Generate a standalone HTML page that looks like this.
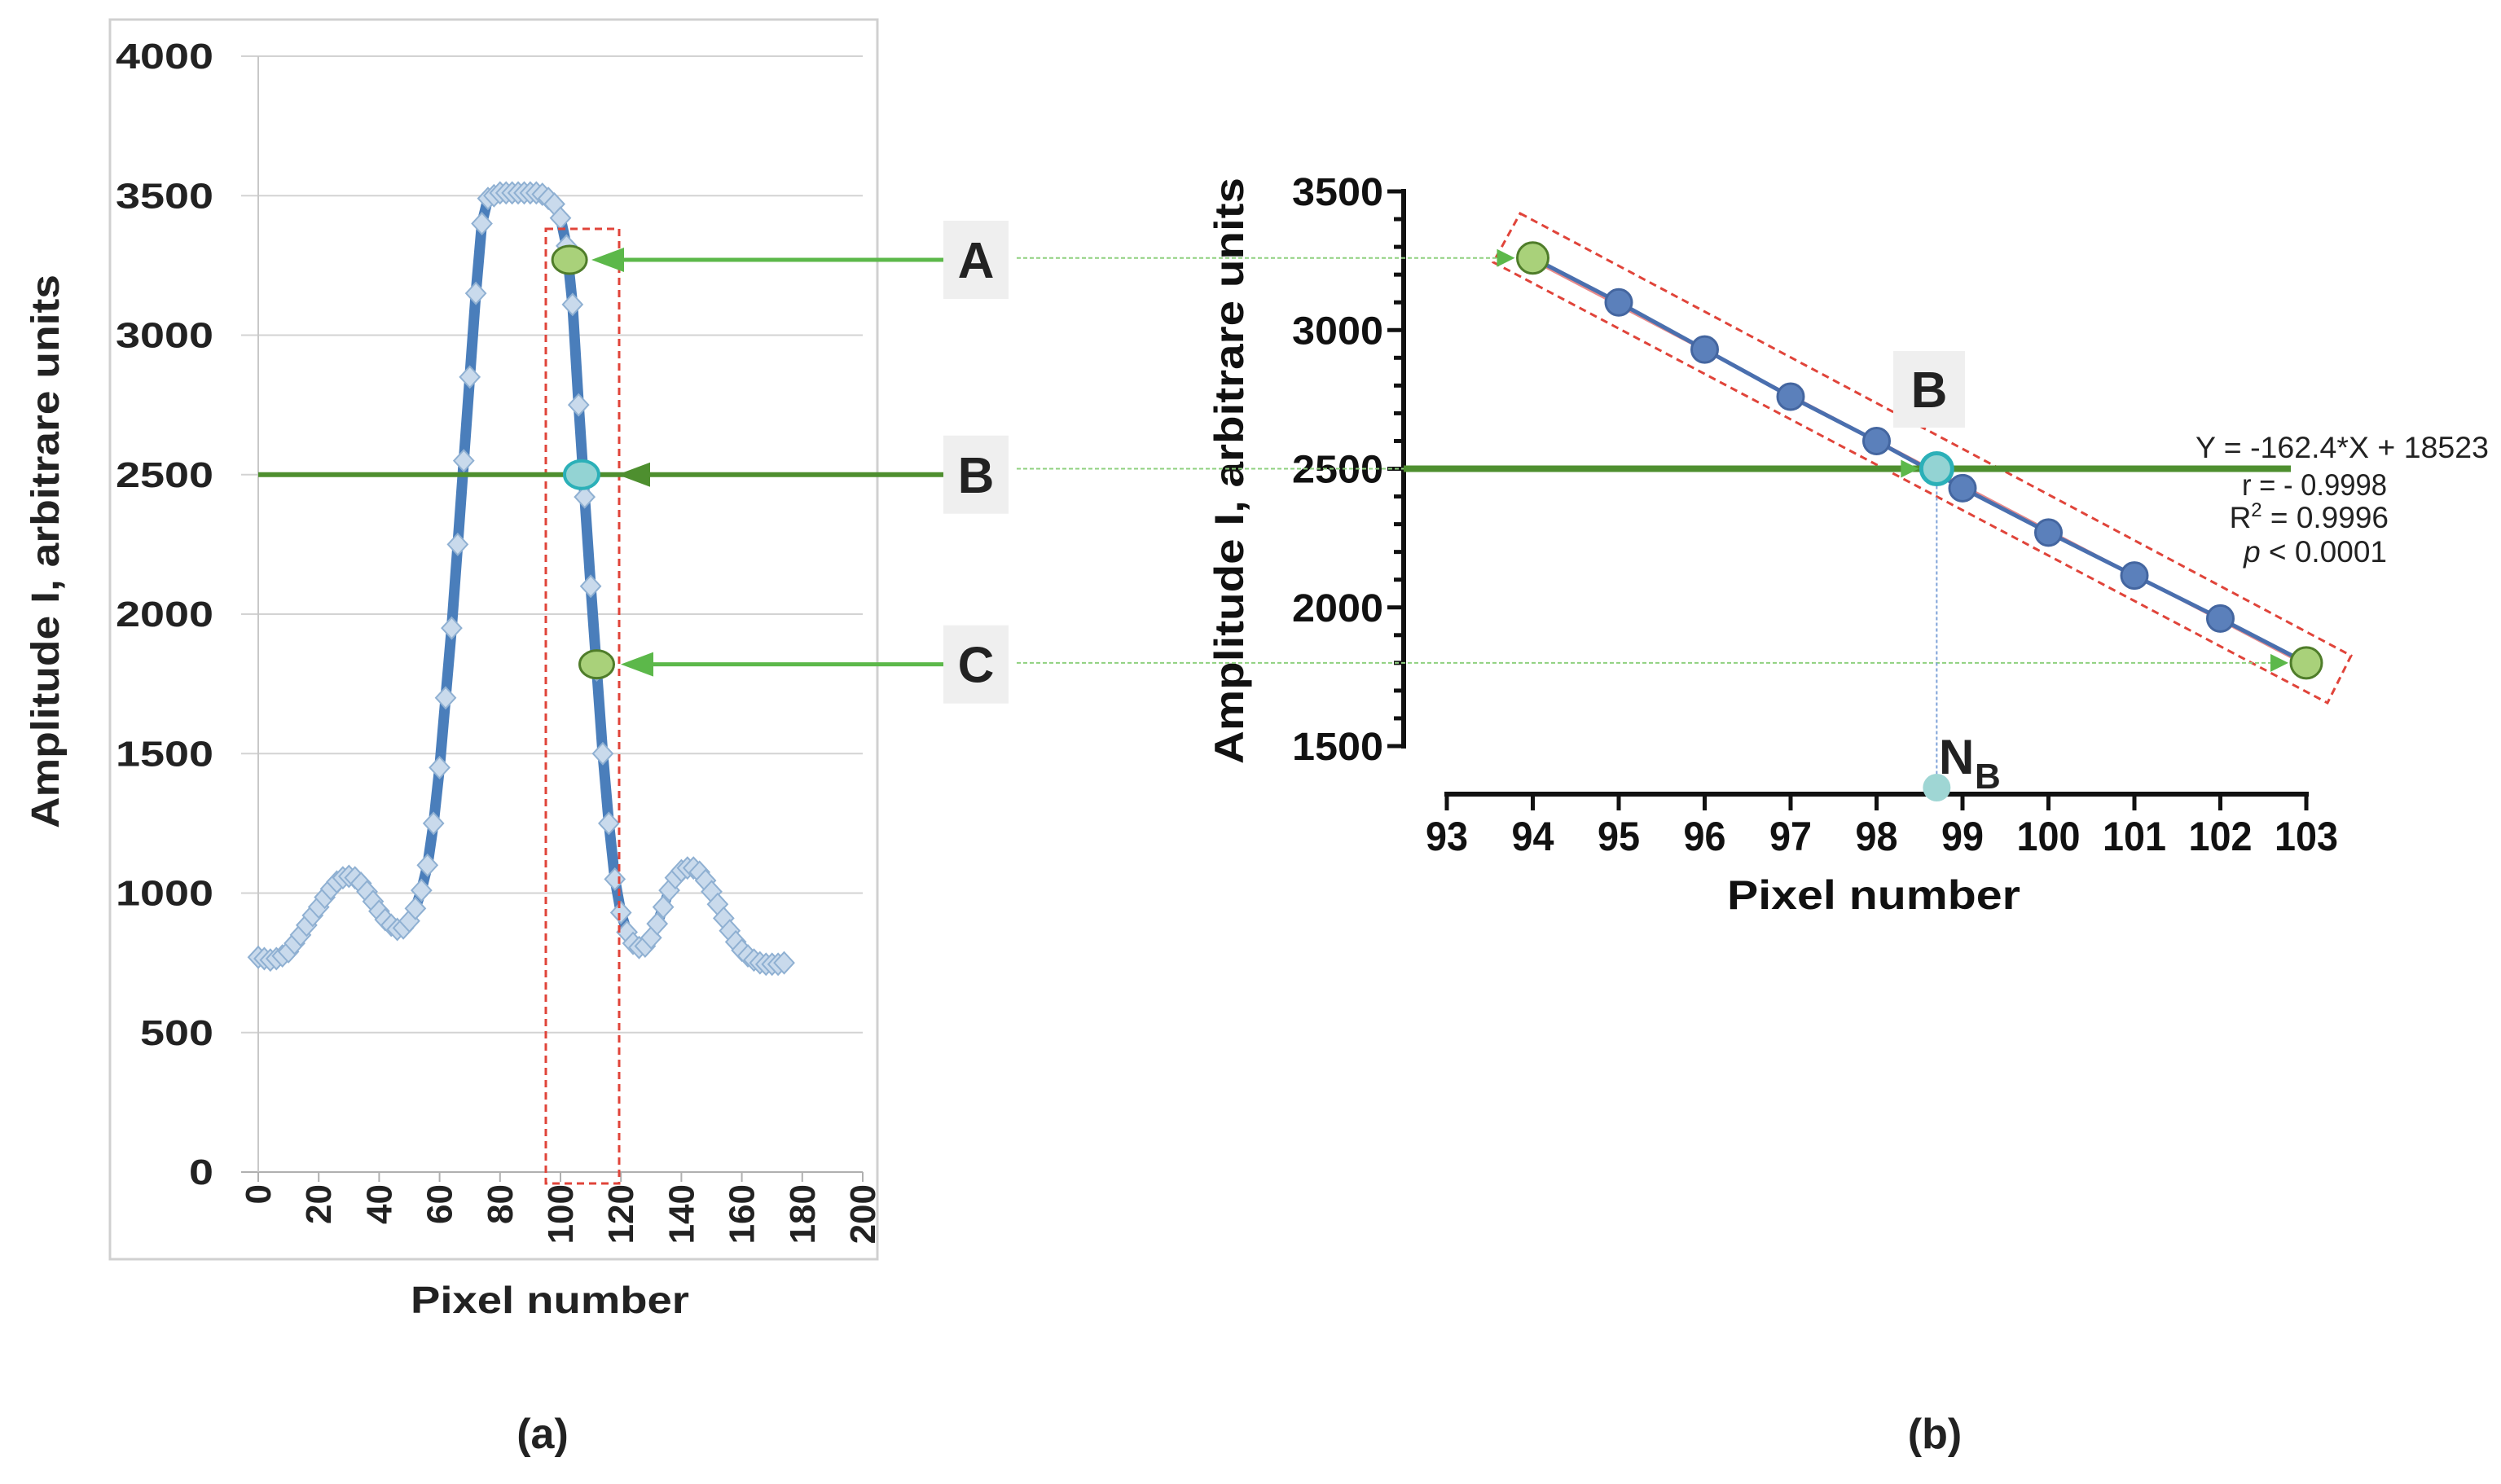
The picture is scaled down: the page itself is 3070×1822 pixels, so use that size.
<!DOCTYPE html>
<html><head><meta charset="utf-8"><style>
html,body{margin:0;padding:0;background:#fff;}
svg{display:block;font-family:"Liberation Sans",Arial,sans-serif;}
</style></head><body>
<svg id="fig" width="3070" height="1822" viewBox="0 0 3070 1822" xmlns="http://www.w3.org/2000/svg">
<g id="left"></g>
<g id="right"></g>
<g id="annot"></g>
</svg>
<script>
// ---- Left chart data ----
const leftPixels = [0,2,4,6,8,10,12,14,16,18,20,22,24,26,28,30,32,34,36,38,40,42,44,46,48,50,52,54,56,58,60,62,64,66,68,70,72,74,76,78,80,82,84,86,88,90,92,94,96,98,100,102,104,106,108,110,112,114,116,118,120,122,124,126,128,130,132,134,136,138,140,142,144,146,148,150,152,154,156,158,160,162,164,166,168,170,172,174];
const leftAmplitude = [770,765,760,765,775,790,820,850,885,920,950,985,1015,1040,1055,1060,1055,1035,1005,970,935,905,885,870,875,900,945,1010,1100,1250,1450,1700,1950,2250,2550,2850,3150,3400,3490,3500,3510,3510,3510,3510,3510,3510,3510,3505,3490,3470,3420,3320,3110,2750,2420,2100,1800,1500,1250,1050,930,860,820,805,810,840,890,950,1010,1055,1080,1090,1090,1075,1045,1005,960,910,865,825,795,775,760,750,745,745,745,750];
const leftYTicks = [0,500,1000,1500,2000,2500,3000,3500,4000];
const leftXTicks = [0,20,40,60,80,100,120,140,160,180,200];
const leftPoints = [[103,3270],[107,2500],[112,1820]];
// ---- Right chart data ----
const rightPixels = [94,95,96,97,98,99,100,101,102,103];
const rightAmplitude = [3260,3100,2930,2760,2600,2430,2270,2115,1960,1800];
const rightYTicks = [1500,2000,2500,3000,3500];
const rightXTicks = [93,94,95,96,97,98,99,100,101,102,103];
const pointB = [98.7,2500];

const NS="http://www.w3.org/2000/svg";
function mk(parent,tag,attrs,text){const e=document.createElementNS(NS,tag);for(const k in attrs)e.setAttribute(k,attrs[k]);if(text!==undefined)e.textContent=text;parent.appendChild(e);return e;}
const L=document.getElementById('left'),R=document.getElementById('right'),A=document.getElementById('annot');
const lx=v=>317+(v/200)*742, ly=v=>1439-(v/4000)*1370;
const rx=v=>1776+(v-93)*105.5, ry=v=>916-(v-1500)/2000*681;

let e;
e=mk(L,'rect',{x:135,y:24,width:942,height:1522,fill:'none',stroke:'#d0d0d0','stroke-width':3});


leftYTicks.forEach(t=>{
  e=mk(L,'line',{x1:296,x2:1059,y1:ly(t),y2:ly(t),stroke:t===0?'#b0b0b0':'#d3d3d3','stroke-width':2});
  
  
  e=mk(L,'text',{x:262,y:ly(t)+15,'text-anchor':'end','font-size':44,'font-weight':'bold',fill:'#222',textLength:String(t).length*30,lengthAdjust:'spacingAndGlyphs'},t);
  
  
});
e=mk(L,'line',{x1:317,x2:317,y1:ly(4000),y2:ly(0),stroke:'#c8c8c8','stroke-width':2});


leftXTicks.forEach(t=>{
  e=mk(L,'line',{x1:lx(t),x2:lx(t),y1:ly(0),y2:ly(0)+12,stroke:'#b0b0b0','stroke-width':2});
  
  
  e=mk(L,'text',{x:0,y:0,'text-anchor':'end','font-size':44,'font-weight':'bold',fill:'#222',transform:`translate(${lx(t)+15},1454) rotate(-90)`},t);
  
  
});
e=mk(L,'text',{x:675,y:1612,'text-anchor':'middle','font-size':46,'font-weight':'bold',fill:'#222',textLength:342,lengthAdjust:'spacingAndGlyphs'},'Pixel number');


e=mk(L,'text',{x:0,y:0,'text-anchor':'middle','font-size':48,'font-weight':'bold',fill:'#222',textLength:680,lengthAdjust:'spacingAndGlyphs',transform:'translate(72,677) rotate(-90)'},'Amplitude I, arbitrare units');


let d=leftPixels.map((p,i)=>(i?'L':'M')+lx(p).toFixed(1)+','+ly(leftAmplitude[i]).toFixed(1)).join(' ');
e=mk(L,'path',{d:d,fill:'none',stroke:'#4a7ebb','stroke-width':13,'stroke-linejoin':'round'});


leftPixels.forEach((p,i)=>{
  const cx=lx(p),cy=ly(leftAmplitude[i]);
  e=mk(L,'path',{d:`M${cx},${cy-13} L${cx+12},${cy} L${cx},${cy+13} L${cx-12},${cy} Z`,fill:'#c9daec',stroke:'#8fb0d2','stroke-width':2});
  
  
});
e=mk(L,'rect',{x:670,y:281,width:90,height:1172,fill:'none',stroke:'#e0443a','stroke-width':3,'stroke-dasharray':'9,6'});



// Right chart
e=mk(R,'line',{x1:1723,x2:1723,y1:ry(3500)-3,y2:ry(1500)+3,stroke:'#111','stroke-width':6});


for(let v=1500;v<=3500;v+=100){
  const major=v%500===0;
  e=mk(R,'line',{x1:major?1703:1711,x2:1723,y1:ry(v),y2:ry(v),stroke:'#111','stroke-width':5});
  
  
}
rightYTicks.forEach(t=>{
  e=mk(R,'text',{x:1698,y:ry(t)+17,'text-anchor':'end','font-size':48,'font-weight':'bold',fill:'#111',textLength:112,lengthAdjust:'spacingAndGlyphs'},t);
  
  
});
e=mk(R,'line',{x1:rx(93)-3,x2:rx(103)+3,y1:975,y2:975,stroke:'#111','stroke-width':6});


rightXTicks.forEach(t=>{
  e=mk(R,'line',{x1:rx(t),x2:rx(t),y1:975,y2:995,stroke:'#111','stroke-width':5});
  
  
  e=mk(R,'text',{x:rx(t),y:1044,'text-anchor':'middle','font-size':50,'font-weight':'bold',fill:'#111',textLength:String(t).length*26,lengthAdjust:'spacingAndGlyphs'},t);
  
  
});
e=mk(R,'text',{x:2300,y:1116,'text-anchor':'middle','font-size':50,'font-weight':'bold',fill:'#111',textLength:360,lengthAdjust:'spacingAndGlyphs'},'Pixel number');


e=mk(R,'text',{x:0,y:0,'text-anchor':'middle','font-size':50,'font-weight':'bold',fill:'#111',textLength:720,lengthAdjust:'spacingAndGlyphs',transform:'translate(1526,578) rotate(-90)'},'Amplitude I, arbitrare units');


e=mk(R,'polygon',{points:'1866,262 2886,805 2857,863 1833,322',fill:'none',stroke:'#e0443a','stroke-width':3,'stroke-dasharray':'9,6'});


e=mk(R,'line',{x1:rx(rightPixels[0]),y1:ry(rightAmplitude[0])+3,x2:rx(rightPixels[9]),y2:ry(rightAmplitude[9])+3,stroke:'#e88a8a','stroke-width':3});


d=rightPixels.map((p,i)=>(i?'L':'M')+rx(p).toFixed(1)+','+ry(rightAmplitude[i]).toFixed(1)).join(' ');
e=mk(R,'path',{d:d,fill:'none',stroke:'#4a6fae','stroke-width':5});


rightPixels.forEach((p,i)=>{
  const end=(i===0||i===rightPixels.length-1);
  e=mk(R,'circle',{cx:rx(p),cy:ry(rightAmplitude[i]),r:end?19:16,fill:end?'#a9d17a':'#5b80bb',stroke:end?'#4f7d2a':'#4466a0','stroke-width':3});
  
  
});

// Annotations
const yA=ly(leftPoints[0][1]), yB=ly(leftPoints[1][1]), yC=ly(leftPoints[2][1]);
function arrowLeft(x,y,col,name){
  e=mk(A,'polygon',{points:`${x},${y} ${x+40},${y-15} ${x+40},${y+15}`,fill:col});
  
  
}
function arrowRight(x,y,name){
  e=mk(A,'polygon',{points:`${x},${y} ${x-22},${y-11} ${x-22},${y+11}`,fill:'#5cb84a'});
  
  
}
e=mk(A,'line',{x1:317,x2:1158,y1:yB,y2:yB,stroke:'#4e8f2f','stroke-width':6});


e=mk(A,'line',{x1:760,x2:1158,y1:yA,y2:yA,stroke:'#5cb84a','stroke-width':5});


e=mk(A,'line',{x1:770,x2:1158,y1:yC,y2:yC,stroke:'#5cb84a','stroke-width':5});


arrowLeft(726,yA,'#5cb84a','a-arrowhead');
arrowLeft(758,yB,'#4e8f2f','b-arrowhead');
arrowLeft(762,yC,'#5cb84a','c-arrowhead');
e=mk(A,'ellipse',{cx:lx(leftPoints[0][0]),cy:yA,rx:21,ry:17,fill:'#a9d17a',stroke:'#4f7d2a','stroke-width':3});


e=mk(A,'ellipse',{cx:lx(leftPoints[1][0]),cy:yB,rx:21,ry:17,fill:'#93d3d3',stroke:'#2bb0b8','stroke-width':4});


e=mk(A,'ellipse',{cx:lx(leftPoints[2][0]),cy:yC,rx:21,ry:17,fill:'#a9d17a',stroke:'#4f7d2a','stroke-width':3});


[['A',yA],['B',yB],['C',yC]].forEach(([t,y])=>{
  e=mk(A,'rect',{x:1158,y:y-48,width:80,height:96,fill:'#efefef'});
  
  
  e=mk(A,'text',{x:1198,y:y+22,'text-anchor':'middle','font-size':62,'font-weight':'bold',fill:'#222'},t);
  
  
});
const rA=ry(rightAmplitude[0]), rC=ry(rightAmplitude[9]), rB=ry(pointB[1]);
e=mk(A,'line',{x1:1248,x2:rx(94)-42,y1:rA,y2:rA,stroke:'#8fd07f','stroke-width':2,'stroke-dasharray':'5,3'});


e=mk(A,'line',{x1:1248,x2:1723,y1:rB,y2:rB,stroke:'#8fd07f','stroke-width':2,'stroke-dasharray':'5,3'});


e=mk(A,'line',{x1:1248,x2:rx(103)-42,y1:rC,y2:rC,stroke:'#8fd07f','stroke-width':2,'stroke-dasharray':'5,3'});


arrowRight(rx(94)-22,rA,'a-arrowhead-right');
arrowRight(rx(103)-22,rC,'c-arrowhead-right');
e=mk(A,'line',{x1:1723,x2:2812,y1:rB,y2:rB,stroke:'#4e8f2f','stroke-width':8});


arrowRight(rx(pointB[0])-22,rB,'b-arrowhead-right');
e=mk(A,'line',{x1:rx(pointB[0]),x2:rx(pointB[0]),y1:rB,y2:967,stroke:'#7fa3d8','stroke-width':2,'stroke-dasharray':'4,3'});


e=mk(A,'circle',{cx:rx(pointB[0]),cy:rB,r:19,fill:'#93d3d3',stroke:'#2bb0b8','stroke-width':5});


e=mk(A,'circle',{cx:rx(pointB[0]),cy:967,r:17,fill:'#9fd6d4'});


e=mk(A,'rect',{x:2324,y:431,width:88,height:94,fill:'#efefef'});


e=mk(A,'text',{x:2368,y:500,'text-anchor':'middle','font-size':62,'font-weight':'bold',fill:'#222'},'B');


e=mk(A,'text',{x:2380,y:950,'font-size':60,'font-weight':'bold',fill:'#222'},'N');


e=mk(A,'text',{x:2424,y:968,'font-size':44,'font-weight':'bold',fill:'#222'},'B');


e=mk(A,'text',{x:3055,y:562,'text-anchor':'end','font-size':37,fill:'#222',textLength:360,lengthAdjust:'spacingAndGlyphs'},'Y = -162.4*X + 18523');


e=mk(A,'text',{x:2930,y:608,'text-anchor':'end','font-size':37,fill:'#222',textLength:178,lengthAdjust:'spacingAndGlyphs'},'r = - 0.9998');


e=mk(A,'text',{x:2932,y:648,'text-anchor':'end','font-size':37,fill:'#222'});


e.innerHTML='R<tspan dy="-14" font-size="24">2</tspan><tspan dy="14"> = 0.9996</tspan>';
e=mk(A,'text',{x:2930,y:690,'text-anchor':'end','font-size':37,fill:'#222'});


e.innerHTML='<tspan font-style="italic">p</tspan> &lt; 0.0001';
e=mk(A,'text',{x:666,y:1778,'text-anchor':'middle','font-size':52,'font-weight':'bold',fill:'#222'},'(a)');


e=mk(A,'text',{x:2375,y:1778,'text-anchor':'middle','font-size':52,'font-weight':'bold',fill:'#222'},'(b)');


</script>
</body></html>
